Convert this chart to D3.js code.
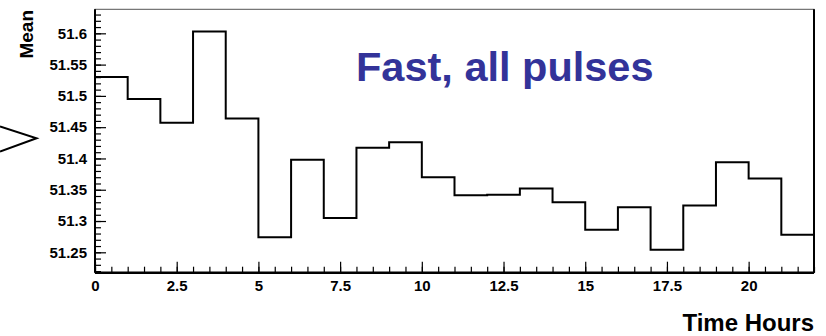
<!DOCTYPE html>
<html>
<head>
<meta charset="utf-8">
<script src="https://cdn.jsdelivr.net/npm/d3@7"></script>
<style>
  body { margin: 0; background: #fff; }
  svg { display: block; font-family: "Liberation Sans", Arial, sans-serif; }
</style>
</head>
<body>
<svg width="826" height="336"></svg>
<script>
// bin edges are whole hours, one value per bin
var binStart = [0,1,2,3,4,5,6,7,8,9,10,11,12,13,14,15,16,17,18,19,20,21];
var binWidth = 1;
var meanValues = [51.530, 51.495, 51.457, 51.603, 51.464, 51.274, 51.398, 51.305, 51.417, 51.426, 51.370,
                  51.341, 51.342, 51.352, 51.330, 51.286, 51.322, 51.254, 51.325, 51.394, 51.368, 51.278];
var xTicks = [0, 2.5, 5, 7.5, 10, 12.5, 15, 17.5, 20];
var yTicks = [51.25, 51.3, 51.35, 51.4, 51.45, 51.5, 51.55, 51.6];
var xDomain = [0, 22];
var yDomain = [51.2174, 51.6384];

var svg = d3.select("svg");
var plotLeft = 95, plotRight = 814, plotTop = 9.3, plotBottom = 272.7;

var x = d3.scaleLinear().domain(xDomain).range([plotLeft, plotRight]);
var y = d3.scaleLinear().domain(yDomain).range([plotBottom, plotTop]);

//frame
svg.append("rect")
  .attr("x", plotLeft).attr("y", plotTop)
  .attr("width", plotRight - plotLeft).attr("height", plotBottom - plotTop)
  .style("fill", "none").style("stroke", "#555").style("stroke-width", 1);

//minor ticks
var minorX = d3.range(0, 22.01, 0.5);
var minorY = d3.range(51.22, 51.635, 0.01);

svg.append("g")
  .attr("transform", "translate(0," + plotBottom + ")")
  .call(d3.axisBottom(x).tickValues(minorX).tickSizeInner(-6).tickSizeOuter(0).tickFormat(""))
  .call(function (g) { g.select(".domain").remove(); })
  .selectAll("line").style("stroke-width", 1.2);

svg.append("g")
  .attr("transform", "translate(" + plotLeft + ",0)")
  .call(d3.axisLeft(y).tickValues(minorY).tickSizeInner(-6).tickSizeOuter(0).tickFormat(""))
  .call(function (g) { g.select(".domain").remove(); })
  .selectAll("line").style("stroke-width", 1.2);

//major ticks + labels
var xAxis = svg.append("g")
  .attr("transform", "translate(0," + plotBottom + ")")
  .call(d3.axisBottom(x).tickValues(xTicks).tickSizeInner(-11).tickSizeOuter(0).tickPadding(8).tickFormat(d3.format("")));
xAxis.select(".domain").remove();
xAxis.selectAll("line").style("stroke-width", 1.2);
xAxis.selectAll("text")
  .style("font-family", "'Liberation Sans', Arial, sans-serif")
  .style("font-size", "15px").style("font-weight", "bold").style("fill", "#000");

var yAxis = svg.append("g")
  .attr("transform", "translate(" + plotLeft + ",0)")
  .call(d3.axisLeft(y).tickValues(yTicks).tickSizeInner(-11).tickSizeOuter(0).tickPadding(8).tickFormat(d3.format("")));
yAxis.select(".domain").remove();
yAxis.selectAll("line").style("stroke-width", 1.2);
yAxis.selectAll("text")
  .style("font-family", "'Liberation Sans', Arial, sans-serif")
  .style("font-size", "15px").style("font-weight", "bold").style("fill", "#000");

//axis lines, thicker
svg.append("line").attr("x1", plotLeft).attr("x2", plotRight).attr("y1", plotBottom).attr("y2", plotBottom)
  .style("stroke", "#000").style("stroke-width", 2.5);
svg.append("line").attr("x1", plotLeft).attr("x2", plotLeft).attr("y1", plotTop).attr("y2", plotBottom)
  .style("stroke", "#000").style("stroke-width", 2);
svg.append("line").attr("x1", plotRight).attr("x2", plotRight).attr("y1", plotTop).attr("y2", plotBottom)
  .style("stroke", "#000").style("stroke-width", 2);

//histogram as steps
var pts = binStart.map(function (b, i) { return [b, meanValues[i]]; });
pts.push([binStart[binStart.length - 1] + binWidth, meanValues[meanValues.length - 1]]);

var line = d3.line()
  .x(function (d) { return x(d[0]); })
  .y(function (d) { return y(d[1]); })
  .curve(d3.curveStepAfter);

svg.append("path")
  .datum(pts)
  .attr("d", line)
  .style("fill", "none").style("stroke", "#000").style("stroke-width", 2);

//titles
svg.append("text")
  .attr("x", 356).attr("y", 80.7)
  .style("font-size", "41.5px").style("font-weight", "bold").style("fill", "#333399")
  .text("Fast, all pulses");

svg.append("text")
  .attr("transform", "translate(33,10) rotate(-90)")
  .attr("text-anchor", "end")
  .style("font-size", "19px").style("font-weight", "bold")
  .text("Mean");

svg.append("text")
  .attr("x", 814).attr("y", 331)
  .attr("text-anchor", "end")
  .style("font-size", "24px").style("font-weight", "bold")
  .text("Time Hours");

//the bracket-like shape at the left edge
svg.append("path")
  .attr("d", "M0,126.5L36.5,138.3L0,151.5")
  .style("fill", "none").style("stroke", "#000").style("stroke-width", 2);
</script>
</body>
</html>
